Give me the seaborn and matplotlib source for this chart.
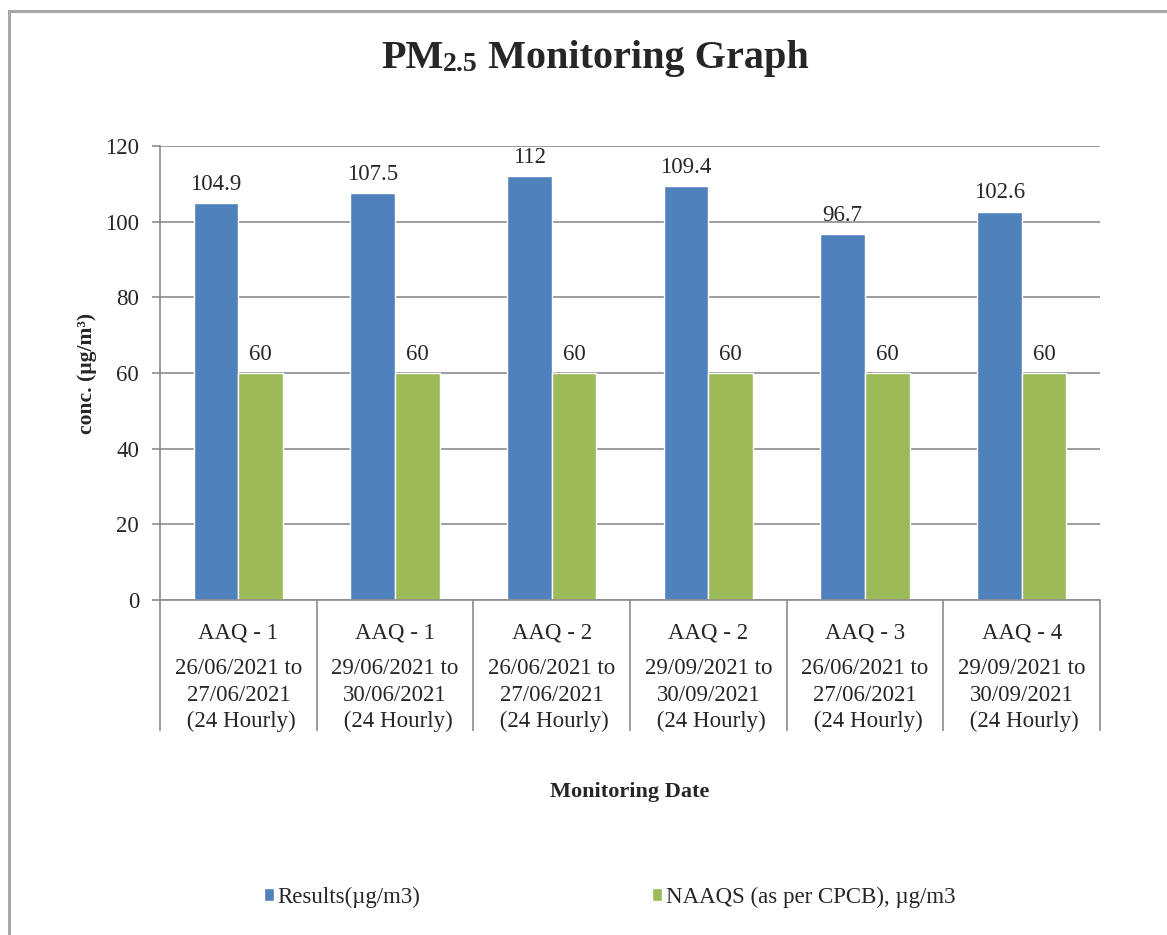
import matplotlib
matplotlib.use("Agg")
import matplotlib.pyplot as plt
import matplotlib.patches as mpatches
import seaborn as sns
import pandas as pd
import numpy as np

# 数据
stations = ["AAQ - 1", "AAQ - 1", "AAQ - 2", "AAQ - 2", "AAQ - 3", "AAQ - 4"]
periods = [
    "26/06/2021 to\n27/06/2021\n (24 Hourly)",
    "29/06/2021 to\n30/06/2021\n (24 Hourly)",
    "26/06/2021 to\n27/06/2021\n (24 Hourly)",
    "29/09/2021 to\n30/09/2021\n (24 Hourly)",
    "26/06/2021 to\n27/06/2021\n (24 Hourly)",
    "29/09/2021 to\n30/09/2021\n (24 Hourly)",
]
results = [104.9, 107.5, 112, 109.4, 96.7, 102.6]
naaqs = [60, 60, 60, 60, 60, 60]
series_names = ["Results(\u00b5g/m3)", "NAAQS (as per CPCB), \u00b5g/m3"]

keys = [f"c{i}" for i in range(len(stations))]
df = pd.DataFrame({
    "cat": keys * 2,
    "value": results + naaqs,
    "series": [series_names[0]] * len(keys) + [series_names[1]] * len(keys),
})

sns.set_style("white")
plt.rcParams["font.family"] = ["Liberation Serif", "DejaVu Serif"]

fig = plt.figure(figsize=(11.67, 9.35), dpi=100)
ax = fig.add_axes([160 / 1167, 1 - 600 / 935, 940 / 1167, 454 / 935])

sns.barplot(data=df, x="cat", y="value", hue="series",
            palette=["#4F81BD", "#9BBB59"], saturation=1, width=0.57,
            order=keys, hue_order=series_names, ax=ax)

for c in ax.containers:
    ax.bar_label(c, fmt="%g", padding=6, fontsize=16.5)

grid_c = "#8c8c8c"
ax.set_ylim(0, 120)
ax.set_yticks(np.arange(0, 121, 20))
ax.yaxis.grid(True, color=grid_c, lw=1.2)
ax.set_axisbelow(True)
ax.tick_params(axis="y", labelsize=16.5, length=6, color=grid_c, width=1.2, left=True, pad=9)

# 分类标签：站点一行，日期另起
ax.set_xticks(range(len(keys)))
ax.set_xticklabels(stations, fontsize=16.5, va="top")
ax.tick_params(axis="x", length=0, pad=16)
ax.set_xticks(np.arange(-0.5, len(keys), 1), minor=True)
ax.tick_params(axis="x", which="minor", bottom=True, length=94, color=grid_c,
               width=1.2, direction="out")
ax.set_xlim(-0.5, len(keys) - 0.5)
ax.set_xlabel("")

sec = ax.secondary_xaxis("bottom")
sec.set_xticks(range(len(keys)))
sec.set_xticklabels(periods, fontsize=16.5, va="top")
sec.tick_params(axis="x", length=0, pad=42)
sec.spines["bottom"].set_visible(False)
for lbl in sec.get_xticklabels():
    lbl.set_linespacing(1.33)

for s in ["top", "right"]:
    ax.spines[s].set_visible(False)
for s in ["left", "bottom"]:
    ax.spines[s].set_color(grid_c)
    ax.spines[s].set_linewidth(1.2)

ax.set_ylabel("conc. (\u00b5g/m\u00b3)", fontsize=15.5, fontweight="bold", labelpad=6)
sec.set_xlabel("Monitoring Date", fontsize=16, fontweight="bold", labelpad=36)

# 图例
handles, lbls = ax.get_legend_handles_labels()
ax.legend_.remove()
fig.legend(handles, lbls, loc="center left", bbox_to_anchor=(264 / 1167, 1 - 897 / 935),
           ncol=2, frameon=False, fontsize=16.5, handlelength=0.45, handleheight=0.45,
           handletextpad=0.15, columnspacing=10.1, borderpad=0, borderaxespad=0)

# 标题
t1 = fig.text(381 / 1167, 1 - 68 / 935, "PM", fontsize=29, fontweight="bold", va="baseline")
t2 = ax.annotate("2.5", xy=(1, 0), xycoords=t1, fontsize=20, fontweight="bold",
                 va="bottom", ha="left", annotation_clip=False)
t3 = ax.annotate(" Monitoring Graph", xy=(1, 0), xycoords=t2, fontsize=29,
                 fontweight="bold", va="bottom", ha="left", annotation_clip=False)

# 外框
fig.patches.append(mpatches.Rectangle((9 / 1167, -0.1), 1.2, 1 - 11 / 935 + 0.1,
                                      transform=fig.transFigure, fill=False,
                                      edgecolor="#a6a6a6", lw=2.2))

fig.savefig("out.png", dpi=100)
